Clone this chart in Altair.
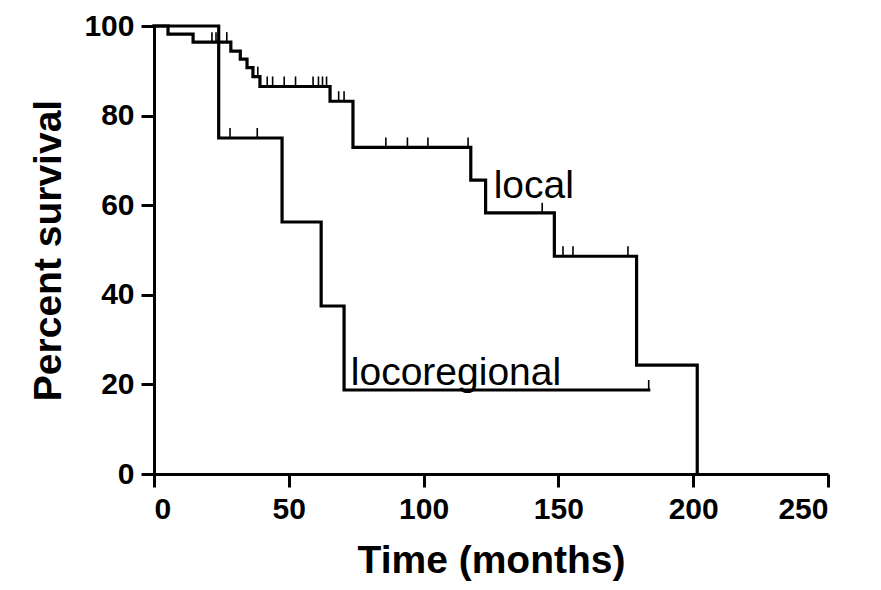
import altair as alt
import pandas as pd

# Kaplan-Meier steps (months, percent survival)
local_time = [0, 5.2, 14.5, 28.5, 32, 34.5, 36.7, 39.3, 65.3, 73.8, 117.5, 123, 148.5, 179, 201.5]
local_surv = [100, 98.2, 96.4, 94.4, 92.6, 90.7, 88.7, 86.5, 83.2, 72.9, 65.6, 58.3, 48.6, 24.3, 0]
local_cens_time = [21.5, 23, 27, 38.5, 42, 44, 48.3, 52.5, 59, 61, 62.5, 64, 68.5, 70.5,
                   86, 94, 101.6, 116.5, 144, 151.7, 155.4, 175.8]
local_cens_surv = [96.4, 96.4, 96.4, 88.7, 86.5, 86.5, 86.5, 86.5, 86.5, 86.5, 86.5, 86.5, 83.2, 83.2,
                   72.9, 72.9, 72.9, 72.9, 58.3, 48.6, 48.6, 48.6]

reg_time = [0, 24, 47.5, 62, 70.5, 183.5]
reg_surv = [100, 75, 56.25, 37.5, 18.75, 18.75]
reg_cens_time = [28.2, 38.3, 183.5]
reg_cens_surv = [75, 75, 18.75]

label_text = ["local", "locoregional"]
label_time = [126.0, 73.0]
label_surv = [61.5, 19.8]

x_ticks = [0, 50, 100, 150, 200, 250]
y_ticks = [0, 20, 40, 60, 80, 100]

curves = pd.concat([
    pd.DataFrame({"t": local_time, "s": local_surv, "g": "local", "o": range(len(local_time))}),
    pd.DataFrame({"t": reg_time, "s": reg_surv, "g": "locoregional", "o": range(len(reg_time))}),
])
cens = pd.concat([
    pd.DataFrame({"t": local_cens_time, "s": local_cens_surv, "g": "local"}),
    pd.DataFrame({"t": reg_cens_time, "s": reg_cens_surv, "g": "locoregional"}),
])
labels = pd.DataFrame({"text": label_text, "t": label_time, "s": label_surv})

xs = alt.Scale(domain=[0, 250], nice=False, zero=False)
ys = alt.Scale(domain=[0, 100], nice=False)

FONT = "Liberation Sans"
axis_style = dict(
    grid=False,
    domainColor="black", domainWidth=3,
    tickColor="black", tickWidth=3, tickSize=13,
    labelFont=FONT, labelFontWeight="bold", labelFontSize=30, labelColor="black",
    titleFont=FONT, titleFontWeight="bold", titleFontSize=39, titleColor="black",
    labelPadding=7,
)
x_axis = alt.Axis(values=x_ticks, title="Time (months)", titlePadding=17, **axis_style)
y_axis = alt.Axis(values=y_ticks, title="Percent survival", titlePadding=15, **axis_style)

lines = alt.Chart(curves).mark_line(interpolate="step-after", color="black", strokeWidth=3.2,
                                    strokeJoin="miter", strokeCap="square").encode(
    x=alt.X("t:Q", scale=xs, axis=x_axis),
    y=alt.Y("s:Q", scale=ys, axis=y_axis),
    detail="g:N",
    order="o:Q",
)

ticks = alt.Chart(cens).mark_tick(orient="vertical", size=10, thickness=1.6, yOffset=-5,
                                  color="black", opacity=1).encode(
    x=alt.X("t:Q", scale=xs),
    y=alt.Y("s:Q", scale=ys),
)

texts = alt.Chart(labels).mark_text(align="left", baseline="alphabetic", font=FONT,
                                    fontSize=39, color="black").encode(
    x=alt.X("t:Q", scale=xs),
    y=alt.Y("s:Q", scale=ys),
    text="text:N",
)

chart = (lines + ticks + texts).properties(
    width=674, height=448,
    background="white",
    autosize=alt.AutoSizeParams(type="none"),
    padding={"left": 146, "top": 18, "right": 45, "bottom": 108},
).configure_view(stroke=None)

chart.save("out.html", embed_options={"renderer": "svg", "actions": False})
